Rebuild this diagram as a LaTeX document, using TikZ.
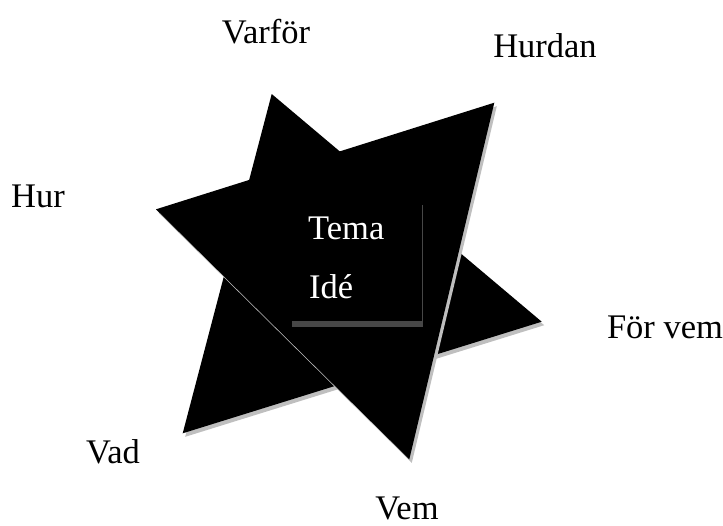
\documentclass[tikz,border=0pt]{standalone}
\usepackage{fontspec}
\setmainfont{Liberation Serif}
\usetikzlibrary{calc}
\begin{document}
\begin{tikzpicture}[x=1pt,y=-1pt,
  lbl/.style={inner sep=0pt,anchor=base,font=\fontsize{34.5}{38}\selectfont},
  inner/.style={lbl,text=white,anchor=base west},
  starshape/.style={fill=black},
  shadow/.style={fill=black!25}]
\useasboundingbox (0,0) rectangle (723,525);
% triangle A
\coordinate (a1) at (271.7,94);
\coordinate (a2) at (541.7,321.7);
\coordinate (a3) at (182.7,433.3);
% triangle B
\coordinate (b1) at (156,209.3);
\coordinate (b2) at (494.3,102.7);
\coordinate (b3) at (409.3,459.3);
\coordinate (off) at (2.5,3.5);
\fill[shadow] ($(a1)+(off)$) -- ($(a2)+(off)$) -- ($(a3)+(off)$) -- cycle;
\fill[starshape] (a1) -- (a2) -- (a3) -- cycle;
\fill[shadow] ($(b1)+(off)$) -- ($(b2)+(off)$) -- ($(b3)+(off)$) -- cycle;
\fill[starshape] (b1) -- (b2) -- (b3) -- cycle;
% inner frame
\coordinate (c1) at (422.3,205);
\coordinate (c2) at (422.3,327);
\coordinate (c3) at (292,324);
\coordinate (c4) at (423.1,324);
\draw[black!72,line width=1.6pt] (c1) -- (c2);
\draw[black!72,line width=6pt] (c3) -- (c4);
\node[inner] (tema) at (308,239) {Tema};
\node[inner] (ide) at (309,298) {Idé};
% outer labels
\node[lbl] (varfor) at (266,43) {Varför};
\node[lbl] (hurdan) at (545,57) {Hurdan};
\node[lbl] (hur) at (38,207) {Hur};
\node[lbl] (forvem) at (665,338) {För vem};
\node[lbl] (vad) at (113,463) {Vad};
\node[lbl] (vem) at (407,519) {Vem};
\end{tikzpicture}
\end{document}
